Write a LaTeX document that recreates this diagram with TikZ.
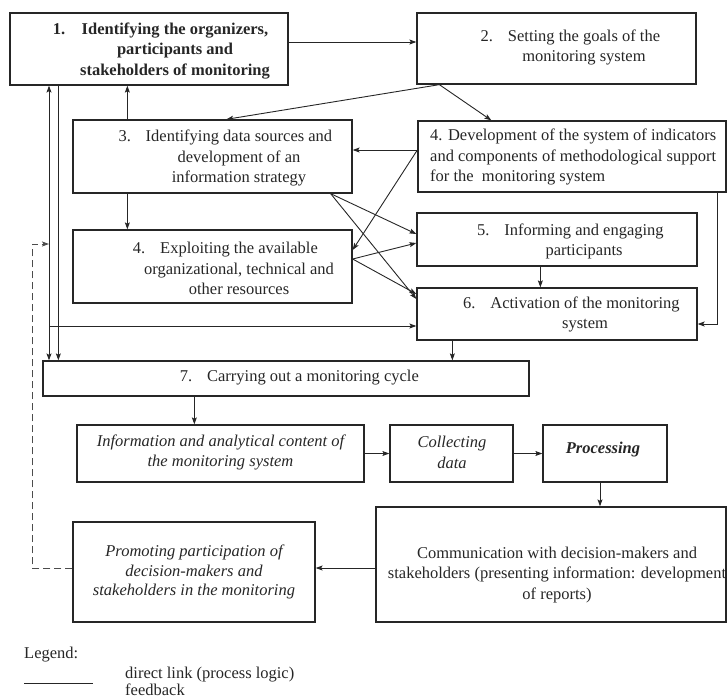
\documentclass[tikz,border=0pt]{standalone}
\usepackage{fontspec}
\setmainfont{Liberation Serif}
\usetikzlibrary{arrows.meta,calc}
\begin{document}
\begin{tikzpicture}[x=1pt,y=-1pt,
  frame/.style 2 args={draw=black!85, line width=1.3pt, inner sep=0pt, minimum width=#1, minimum height=#2},
  txt/.style={align=center, inner sep=0pt, text=black!85, font=\fontsize{16.5}{20.5}\selectfont},
  arr/.style={draw=black!85, line width=0.9pt, -{Stealth[length=7pt,width=5pt,inset=1.5pt]}},
  fbk/.style={arr, draw=black!70, dash pattern=on 7pt off 4pt}]
\useasboundingbox (0,0) rectangle (727,699);
% boxes
\node[frame={278pt}{72pt}] (b1) at (149,49) {};
\node[frame={279pt}{71pt}] (b2) at (556.5,48.5) {};
\node[frame={279pt}{73pt}] (b3) at (212.5,156.5) {};
\node[frame={308pt}{71pt}] (b4d) at (572,156.5) {};
\node[frame={279pt}{73pt}] (b4e) at (212.5,266.5) {};
\node[frame={280pt}{53pt}] (b5) at (557,239.5) {};
\node[frame={280pt}{52pt}] (b6) at (557,314) {};
\node[frame={486pt}{35pt}] (b7) at (286,378.5) {};
\node[frame={287pt}{57pt}] (bi) at (220.5,453.5) {};
\node[frame={123pt}{57pt}] (bc) at (451.5,453.5) {};
\node[frame={124pt}{57pt}] (bp) at (605,453.5) {};
\node[frame={350pt}{115pt}] (bcomm) at (551,564.5) {};
\node[frame={242pt}{100pt}] (bprom) at (194,572) {};
% texts
\node[txt, font=\fontsize{16.5}{20.5}\selectfont\bfseries] (t1) at (175,51) {\llap{1.\hspace{1em}}Identifying the organizers,\\participants and\\stakeholders of monitoring};
\node[txt] (t2) at (584,47.5) {\llap{2.\hspace{0.9em}}Setting the goals of the\\monitoring system};
\node[txt] (t3) at (239,158) {\llap{3.\hspace{0.9em}}Identifying data sources and\\development of an\\information strategy};
\node[txt, align=left, anchor=west] (t4d) at (430,157) {4. Development of the system of indicators\\and components of methodological support\\for the\ \ monitoring system};
\node[txt] (t4e) at (239,268.5) {\llap{4.\hspace{0.9em}}Exploiting the available\\organizational, technical and\\other resources};
\node[txt] (t5) at (584,241.5) {\llap{5.\hspace{0.9em}}Informing and engaging\\participants};
\node[txt] (t6) at (585,314.5) {\llap{6.\hspace{0.9em}}Activation of the monitoring\\system};
\node[txt] (t7) at (313,378) {\llap{7.\hspace{0.9em}}Carrying out a monitoring cycle};
\node[txt, font=\fontsize{16.5}{20.5}\selectfont\itshape] (ti) at (220.5,452.5) {Information and analytical content of\\the monitoring system};
\node[txt, font=\fontsize{16.5}{20.5}\selectfont\itshape] (tc) at (452,452.5) {Collecting\\data};
\node[txt, font=\fontsize{16.5}{20.5}\selectfont\bfseries\itshape] (tp) at (603,450) {Processing};
\node[txt] (tcomm) at (557,575) {Communication with decision-makers and\\stakeholders (presenting information: development\\of reports)};
\node[txt, font=\fontsize{16.5}{19.5}\selectfont\itshape] (tprom) at (194,572) {Promoting participation of\\decision-makers and\\stakeholders in the monitoring};
% connectors
\draw[arr] ([yshift=7pt]b1.east) -- ([yshift=7pt]b1.east -| b2.west);
\coordinate (s2) at ([xshift=23pt]b2.south west);
\draw[arr] (s2) -- ([xshift=154pt]b3.north west);
\draw[arr] (s2) -- ([xshift=74pt]b4d.north west);
\coordinate (p4) at ([yshift=6.5pt]b4d.west);
\draw[arr] (p4) -- (p4 -| b3.east);
\draw[arr] (p4) -- ([yshift=16.5pt]b4e.east);
\coordinate (u3) at ([xshift=55pt]b3.north west);
\draw[arr] (u3) -- (u3 |- b1.south);
\coordinate (d3) at ([xshift=55pt]b3.south west);
\draw[arr] (d3) -- (d3 |- b4e.north);
\coordinate (s3) at ([xshift=-22pt]b3.south east);
\draw[arr] (s3) -- ([yshift=5.5pt]b5.west);
\draw[arr] (s3) -- ([yshift=15pt]b6.west);
\coordinate (s4) at ([yshift=7.5pt]b4e.east);
\draw[arr] (s4) -- ([yshift=-3.5pt]b5.west);
\draw[arr] (s4) -- ([yshift=20pt]b6.west);
\coordinate (s5) at ([xshift=124pt]b5.south west);
\draw[arr] (s5) -- (s5 |- b6.north);
\coordinate (s6) at ([xshift=36pt]b6.south west);
\draw[arr] (s6) -- (s6 |- b7.north);
\coordinate (s4d) at ([xshift=-9pt]b4d.south east);
\coordinate (e6) at ([yshift=-10pt]b6.east);
\draw[arr] (s4d) |- (e6);
\coordinate (s1) at ([xshift=49pt]b1.south west);
\draw[arr] (s1) -- (s1 |- b7.north);
\coordinate (fb) at (49,244);
\draw[arr] (fb) -- (fb |- b1.south);
\draw[arr] (fb) -- (fb |- b7.north);
\coordinate (w6) at ([yshift=-12pt]b6.west);
\draw[arr] (w6 -| fb) -- (w6);
\coordinate (s7) at ([xshift=152pt]b7.south west);
\draw[arr] (s7) -- (s7 |- bi.north);
\draw[arr] (bi) -- (bc);
\draw[arr] (bc) -- (bp);
\coordinate (sp) at ([xshift=-5pt]bp.south);
\draw[arr] (sp) -- (sp |- bcomm.north);
\coordinate (wc) at ([yshift=-3.5pt]bcomm.west);
\draw[arr] (wc) -- (wc -| bprom.east);
\coordinate (wp) at (wc -| bprom.west);
\coordinate (dc) at (32,244);
\draw[fbk] (wp) -| (dc) -- (fb);
% legend
\node[txt, anchor=west] (lg) at (24,655) {Legend:};
\coordinate (l1) at (24,683);
\coordinate (l2) at (93,683);
\draw[draw=black!85, line width=0.9pt] (l1) -- (l2);
\node[txt, anchor=west] (ld) at (125,674.5) {direct link (process logic)};
\node[txt, anchor=west] (lf) at (125,689.5) {feedback};
\end{tikzpicture}
\end{document}
